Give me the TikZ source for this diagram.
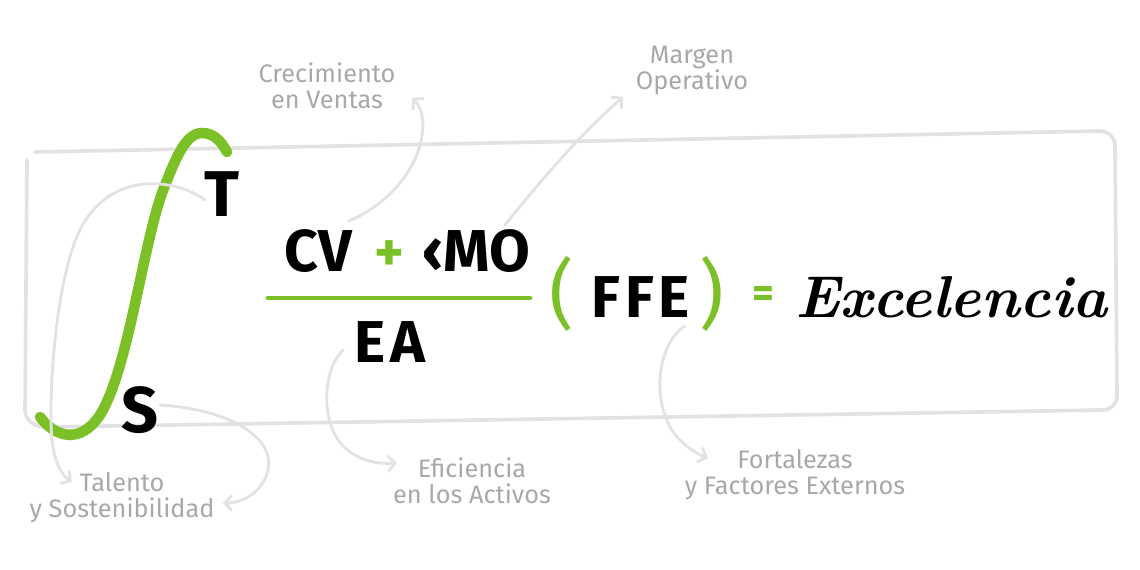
\documentclass[tikz,border=0pt]{standalone}
\usepackage{fontspec}
\newfontfamily\handfont{Fira Sans}
\usetikzlibrary{arrows.meta, calc}
\definecolor{formgreen}{RGB}{124,192,40}
\definecolor{notegray}{RGB}{168,168,168}
\definecolor{linegray}{RGB}{226,226,226}

\begin{document}
\begin{tikzpicture}[x=0.025cm, y=-0.025cm]
    \tikzstyle{notetext} = [inner sep=0pt, align=center, text=notegray, font=\handfont\fontsize{18}{18.5}\selectfont]
    \tikzstyle{formula} = [inner sep=0pt, anchor=base, font=\handfont\bfseries\fontsize{42}{42}\selectfont]
    \tikzstyle{wide} = [font=\handfont\bfseries\fontsize{42}{42}\selectfont\addfontfeatures{LetterSpace=8}]
    \tikzstyle{sign} = [inner sep=0pt, text=formgreen, font=\handfont\bfseries\fontsize{30}{30}\selectfont]
    \tikzstyle{paren} = [inner sep=0pt, text=formgreen, font=\handfont\fontsize{54}{54}\selectfont]
    \tikzstyle{note} = [line width=2pt, linegray, line cap=round, -{Straight Barb[length=5pt,width=11pt]}]
    \tikzstyle{boxline} = [line width=2.6pt, linegray, line cap=round, line join=round]

    \useasboundingbox (0,0) rectangle (1140,570);

    % hand drawn frame
    \draw [boxline] (35,152) -- (1100,131) to[out=0,in=90] (1115,146) -- (1117,396)
        to[out=-90,in=0] (1103,410) -- (45,427) to[out=180,in=-90] (25,410) -- (27,160);

    % integral sign
    \draw [formgreen, line width=7.5pt, line cap=round] (40,417) .. controls (55,437) and (80,445) .. (100,415)
        .. controls (128,370) and (142,250) .. (162,193) .. controls (175,160) and (185,133) .. (202,133)
        .. controls (215,133) and (222,143) .. (227,152);
    \node (t) [formula, font=\handfont\bfseries\fontsize{46}{46}\selectfont] at (222,217) {T};
    \node (s) [formula, font=\handfont\bfseries\fontsize{46}{46}\selectfont] at (140,433) {S};

    % fraction
    \node (cv) [formula] at (318,272) {CV};
    \node (plus) [sign, font=\handfont\bfseries\fontsize{40}{40}\selectfont] at (389,256) {+};
    \node (mo) [formula] at (476,272) {‹MO};
    \draw [formgreen, line width=3.5pt, line cap=round] (268,298) -- (530,298);
    \node (ea) [formula, wide] at (390,363) {EA};

    \node (lpar) [paren] at (562,294) {(};
    \node (ffe) [formula, wide] at (641,318) {FFE};
    \node (rpar) [paren] at (712,294) {)};
    \node (eq) [sign] at (763,297) {=};
    \node (exc) [anchor=base, inner sep=0pt, font=\bfseries\itshape\fontsize{42}{42}\selectfont] at (951,318) {Excelencia};

    % notes
    \node (crec) [notetext, anchor=north] at (327,62) {Crecimiento\\en Ventas};
    \node (marg) [notetext, anchor=north] at (692,46) {Margen\\Operativo};
    \node (tal) [notetext, anchor=north] at (122,472) {Talento\\y Sostenibilidad};
    \node (efi) [notetext, anchor=north] at (472,457) {Eficiencia\\en los Activos};
    \node (fort) [notetext, anchor=north] at (795,449) {Fortalezas\\y Factores Externos};

    \draw [note] ($(cv.base)+(31,-51)$) .. controls (420,190) and (435,120) .. ($(crec.north)+(85,36)$);
    \draw [note] ($(mo.base)+(29,-47)$) .. controls (545,175) and (585,130) .. ($(marg.north)+(-69,51)$);
    \draw [note] ($(t.base)+(-17,-17)$) .. controls (175,178) and (110,170) .. (80,230)
        .. controls (55,280) and (48,400) .. (52,440) .. controls (55,465) and (62,475) .. ($(tal.north)+(-50,10)$);
    \draw [note] ($(s.base)+(20,-28)$) .. controls (235,410) and (275,440) .. (268,470)
        .. controls (262,495) and (240,503) .. ($(tal.north)+(101,31)$);
    \draw [note] ($(ea.base)+(-47,-13)$) .. controls (322,370) and (320,425) .. (345,448)
        .. controls (362,463) and (382,464) .. ($(efi.north)+(-75,6)$);
    \draw [note] ($(ffe.base)+(44,8)$) .. controls (655,345) and (650,410) .. (680,440)
        .. controls (690,450) and (700,455) .. ($(fort.north)+(-87,9)$);
\end{tikzpicture}
\end{document}
